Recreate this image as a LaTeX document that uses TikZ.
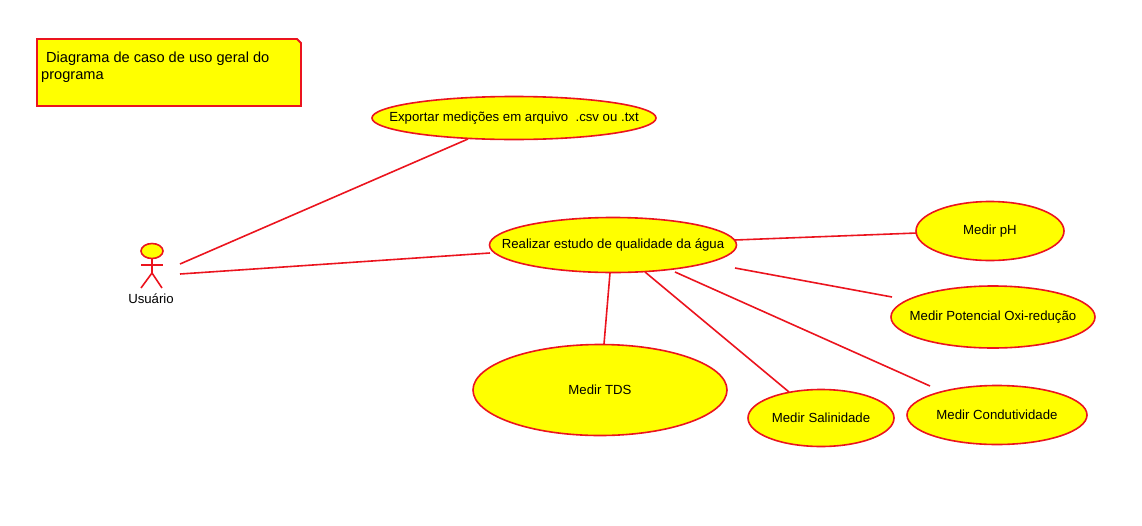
\documentclass[tikz,border=0pt]{standalone}
\usepackage{fontspec}
\setmainfont{Liberation Sans}
\usetikzlibrary{shapes.geometric}
\definecolor{umlred}{RGB}{235,20,30}
\definecolor{umlyellow}{RGB}{255,255,0}
\newcommand{\uctext}[1]{\makebox[0pt]{\raisebox{-1pt}{#1}}}
\tikzset{
 uc/.style={ellipse,draw=umlred,fill=umlyellow,line width=1.6pt,inner sep=0pt,outer sep=0pt,font=\fontsize{13.2}{15}\selectfont,text=black},
 lnk/.style={draw=umlred,line width=1.6pt},
 lbl/.style={font=\fontsize{13.2}{15}\selectfont,text=black,inner sep=0pt},
 notelbl/.style={font=\fontsize{14.6}{17}\selectfont,text=black,inner sep=0pt}
}
\begin{document}
\begin{tikzpicture}[x=1pt,y=-1pt]
\useasboundingbox (0,0) rectangle (1142,525);
% note
\path[fill=umlyellow,draw=umlred,line width=1.8pt] (37,39) -- (297,39) -- (301,43) -- (301,106) -- (37,106) -- cycle;
\node[notelbl,anchor=base west] (notea) at (46,62) {Diagrama de caso de uso geral do};
\node[notelbl,anchor=base west] (noteb) at (41,79) {programa};
% actor
\draw[lnk] (152,258) -- (152,273);
\draw[lnk] (141,265) -- (163,265);
\draw[lnk] (141,288) -- (152,273) -- (162,288);
\node[uc,minimum width=22pt,minimum height=15pt] (head) at (152,251) {};
\node[lbl] (actor) at (151,299) {Usuário};
% use cases
\node[uc,minimum width=284pt,minimum height=43pt] (exp) at (514,118) {\uctext{Exportar medições em arquivo\ \ .csv ou .txt}};
\node[uc,minimum width=247pt,minimum height=55pt] (est) at (613,245) {\uctext{Realizar estudo de qualidade da água}};
\node[uc,minimum width=148pt,minimum height=59pt] (ph) at (990,231) {\uctext{Medir pH}};
\node[uc,minimum width=204pt,minimum height=62pt] (oxi) at (993,317) {\uctext{Medir Potencial Oxi-redução}};
\node[uc,minimum width=254pt,minimum height=91pt] (tds) at (600,390) {\uctext{Medir TDS}};
\node[uc,minimum width=146pt,minimum height=57pt] (sal) at (821,418) {\uctext{Medir Salinidade}};
\node[uc,minimum width=180pt,minimum height=59pt] (con) at (997,415) {\uctext{Medir Condutividade}};
% free ends
\coordinate (a1) at (180,264);
\coordinate (a2) at (180,274);
\coordinate (e1) at (468,139);
\coordinate (e2) at (490,253);
\coordinate (r1) at (735,240);
\coordinate (r2) at (735,268);
\coordinate (r3) at (675,272);
\coordinate (r4) at (645,272);
\coordinate (r5) at (610,273);
\coordinate (t2) at (892,297);
\coordinate (t3) at (930,386);
\coordinate (t4) at (789,392);
\coordinate (t5) at (604,344);
\coordinate (t1) at (917,233);
\draw[lnk] (a1) -- (e1);
\draw[lnk] (a2) -- (e2);
\draw[lnk] (r1) -- (t1);
\draw[lnk] (r2) -- (t2);
\draw[lnk] (r3) -- (t3);
\draw[lnk] (r4) -- (t4);
\draw[lnk] (r5) -- (t5);
\end{tikzpicture}
\end{document}
